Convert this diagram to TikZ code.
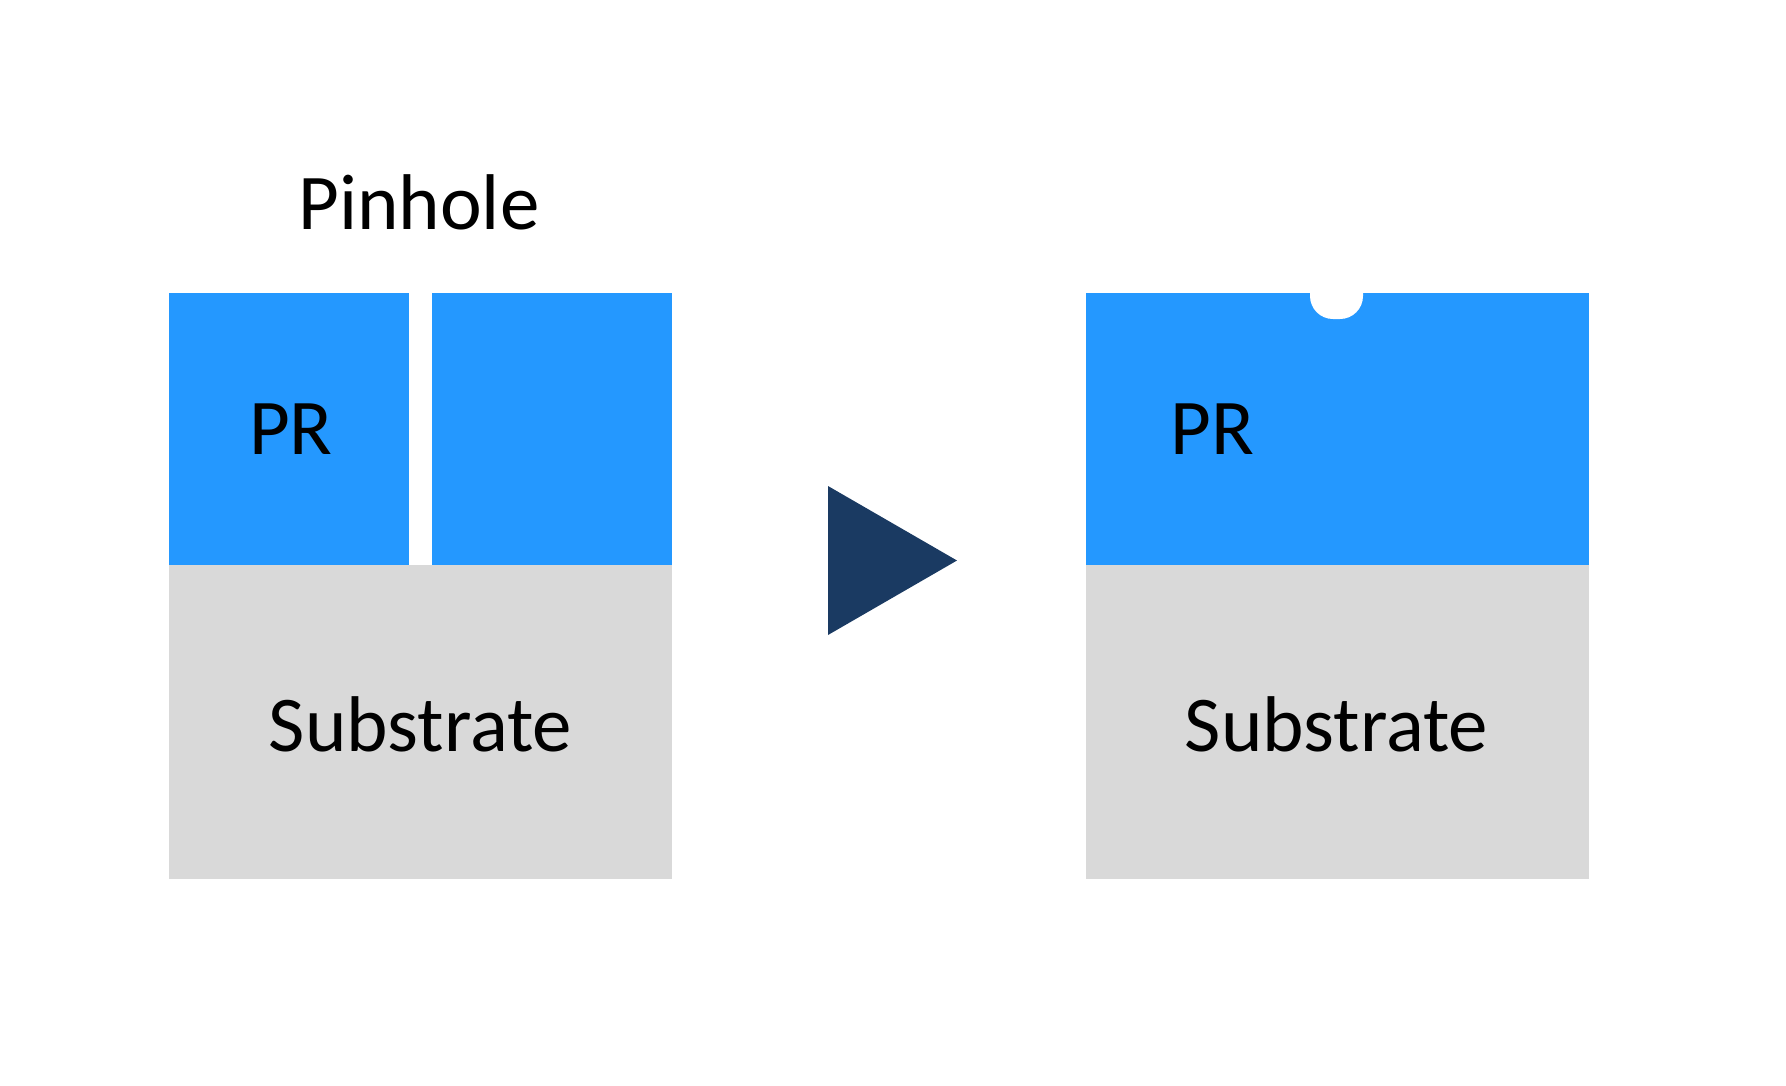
\documentclass[tikz,border=0pt]{standalone}
\usepackage{fontspec}
\setmainfont{Carlito}
\usepackage{xcolor}
\usepackage{tikz}
\usetikzlibrary{positioning}
\definecolor{prblue}{RGB}{36,152,255}
\definecolor{subgray}{RGB}{217,217,217}
\definecolor{navy}{RGB}{26,58,98}
\tikzstyle{base} = [rectangle, inner sep=0pt, draw=none, fill=subgray, minimum width=503pt, minimum height=314pt]
\tikzstyle{resist} = [rectangle, inner sep=0pt, draw=none, fill=prblue, minimum height=272pt]
\tikzstyle{txt} = [inner sep=0pt, anchor=base, font=\fontsize{79}{90}\selectfont]

\begin{document}
\begin{tikzpicture}[x=1pt, y=-1pt]
    \useasboundingbox (0,0) rectangle (1786,1085);
    % Before: resist with a pinhole (left)
    \node (sub1) [base, anchor=north west] at (169,565) {};
    \node (pr1a) [resist, minimum width=240pt, anchor=south west] at (sub1.north west) {};
    \node (pr1b) [resist, minimum width=240pt, anchor=south east] at (sub1.north east) {};
    \node (pin) [txt] at (419,229) {Pinhole};
    \node (lpr1) [txt] at (291,454) {PR};
    \node (lsub1) [txt] at (420.5,751) {Substrate};

    % Step arrow
    \fill[navy] (828,486) -- (957,560.5) -- (828,635) -- cycle;

    % After: resist with a small dent (right)
    \node (sub2) [base, right=413pt of sub1] {};
    \node (pr2) [resist, minimum width=503pt, anchor=south] at (sub2.north) {};
    \fill[white, rounded corners=23pt] (1310,255) -- (1310,319) -- (1363,319) -- (1363,255) -- cycle;
    \node (lpr2) [txt] at (1212,454) {PR};
    \node (lsub2) [txt] at (1336.5,751) {Substrate};
\end{tikzpicture}
\end{document}
